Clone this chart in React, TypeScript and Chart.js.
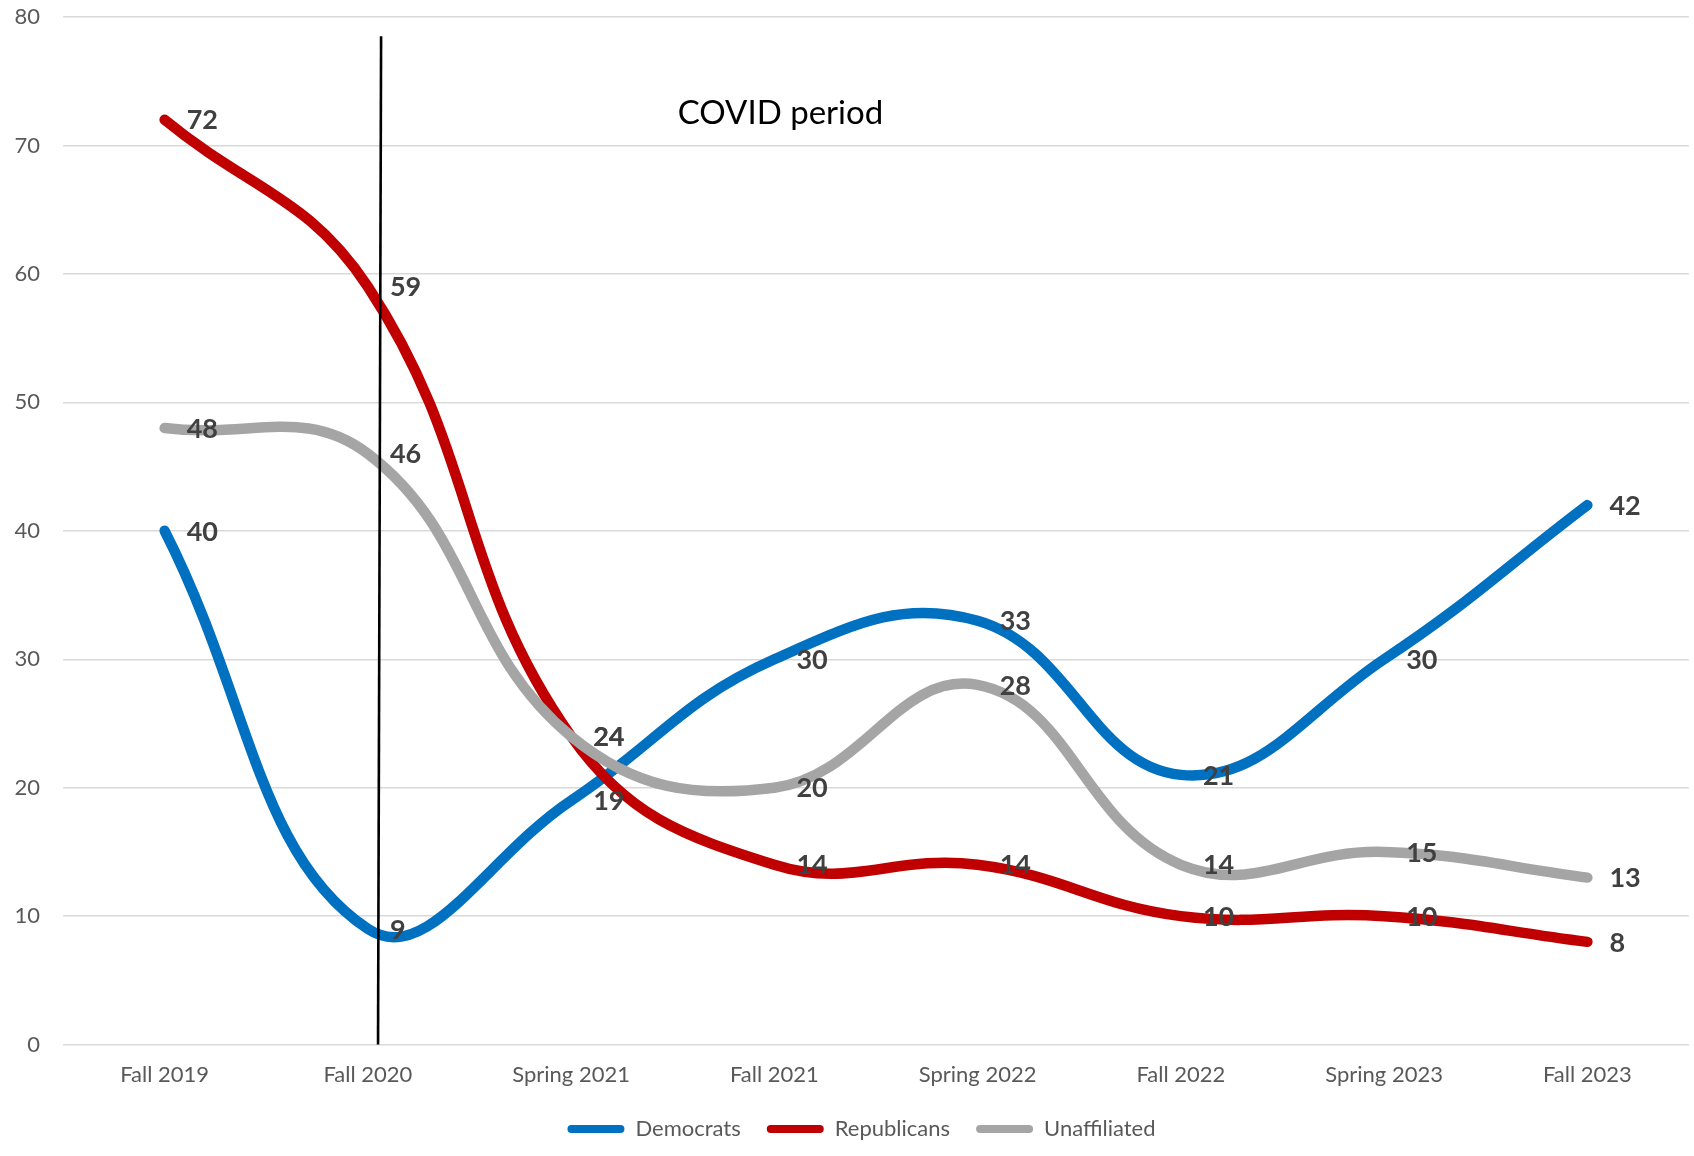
import React, { useEffect, useRef } from "react";
import { Chart, registerables } from "chart.js";

Chart.register(...registerables);

const categories = [
  "Fall 2019",
  "Fall 2020",
  "Spring 2021",
  "Fall 2021",
  "Spring 2022",
  "Fall 2022",
  "Spring 2023",
  "Fall 2023",
];
const democrats = [40, 9, 19, 30, 33, 21, 30, 42];
const republicans = [72, 59, 24, 14, 14, 10, 10, 8];
const unaffiliated = [48, 46, 24, 20, 28, 14, 15, 13];
const seriesNames = ["Democrats", "Republicans", "Unaffiliated"];
const annotationText = "COVID period";

const FONT = "Lato, 'Open Sans', sans-serif";
const BLUE = "#0070C0";
const RED = "#C00000";
const GRAY = "#A5A5A5";

const dataLabelsPlugin = {
  id: "dataLabels",
  afterLayout(chart: any) {
    if (chart.legend) {
      chart.legend.left += 17;
      chart.legend.right += 17;
    }
  },
  afterDatasetsDraw(chart: any) {
    const ctx = chart.ctx;
    ctx.save();
    const xs = chart.scales.x;
    const ys = chart.scales.y;
    const step = xs.getPixelForValue(2) - xs.getPixelForValue(1);
    const x1 = xs.getPixelForValue(1) + step * 0.065;
    const x0 = xs.getPixelForValue(1) + step * 0.05;
    ctx.beginPath();
    ctx.strokeStyle = "#000000";
    ctx.lineWidth = 2.6;
    ctx.moveTo(x1, ys.getPixelForValue(78.5));
    ctx.lineTo(x0, ys.getPixelForValue(0));
    ctx.stroke();

    ctx.fillStyle = "#000000";
    ctx.font = `33px ${FONT}`;
    ctx.textAlign = "center";
    ctx.textBaseline = "middle";
    const tx = xs.getPixelForValue(3) + step * 0.03;
    ctx.fillText(annotationText, tx, ys.getPixelForValue(72.5));

    ctx.font = `bold 27px ${FONT}`;
    ctx.fillStyle = "#404040";
    ctx.textAlign = "left";
    ctx.textBaseline = "middle";
    chart.data.datasets.forEach((ds: any, i: number) => {
      const meta = chart.getDatasetMeta(i);
      if (meta.hidden) return;
      meta.data.forEach((el: any, j: number) => {
        ctx.fillText(String(ds.data[j]), el.x + 22, el.y + 1);
      });
    });
    ctx.restore();
  },
};

export default function App() {
  const canvasRef = useRef<HTMLCanvasElement | null>(null);

  useEffect(() => {
    if (!canvasRef.current) return;
    const common = {
      fill: false,
      borderWidth: 10.5,
      pointRadius: 0,
      pointHoverRadius: 0,
      tension: 0.42,
      borderCapStyle: "round",
      borderJoinStyle: "round",
    };
    const chart = new Chart(canvasRef.current, {
      type: "line",
      data: {
        labels: categories,
        datasets: [
          { ...common, label: seriesNames[0], data: democrats, borderColor: BLUE, backgroundColor: BLUE, order: 3 },
          { ...common, label: seriesNames[1], data: republicans, borderColor: RED, backgroundColor: RED, order: 2 },
          { ...common, label: seriesNames[2], data: unaffiliated, borderColor: GRAY, backgroundColor: GRAY, order: 1 },
        ],
      } as any,
      options: {
        animation: false,
        responsive: false,
        devicePixelRatio: 1,
        layout: { padding: { top: 17, right: 5, left: 0, bottom: 6 } },
        plugins: {
          tooltip: { enabled: false },
          legend: {
            position: "bottom",
            labels: {
              boxWidth: 57,
              boxHeight: 8,
              useBorderRadius: true,
              borderRadius: 4,
              padding: 26,
              color: "#595959",
              font: { size: 22, family: FONT },
              sort: (a: any, b: any) => a.datasetIndex - b.datasetIndex,
              generateLabels(chart: any) {
                const items = Chart.defaults.plugins.legend.labels.generateLabels(chart);
                return items.map((it: any) => ({ ...it, lineWidth: 0 }));
              },
            },
          },
        },
        scales: {
          x: {
            offset: true,
            grid: { display: false, drawTicks: false },
            border: { display: false },
            ticks: { color: "#595959", font: { size: 22, family: FONT }, padding: 17, maxRotation: 0 },
            afterFit(scale: any) {
              scale.height = scale.height - 13;
            },
          },
          y: {
            min: 0,
            max: 80,
            ticks: { stepSize: 10, color: "#595959", font: { size: 22, family: FONT }, padding: 23 },
            grid: { color: "#D9D9D9", lineWidth: 1.5, drawTicks: false },
            border: { display: false },
            afterFit(scale: any) {
              scale.width = 63;
              scale.paddingTop = 0;
              scale.paddingBottom = 0;
            },
          },
        },
      } as any,
      plugins: [dataLabelsPlugin],
    });
    return () => chart.destroy();
  }, []);

  return (
    <div style={{ position: "absolute", left: 0, top: 0, width: 1694, height: 1156, background: "#fff" }}>
      <canvas ref={canvasRef} width={1694} height={1156} />
    </div>
  );
}
